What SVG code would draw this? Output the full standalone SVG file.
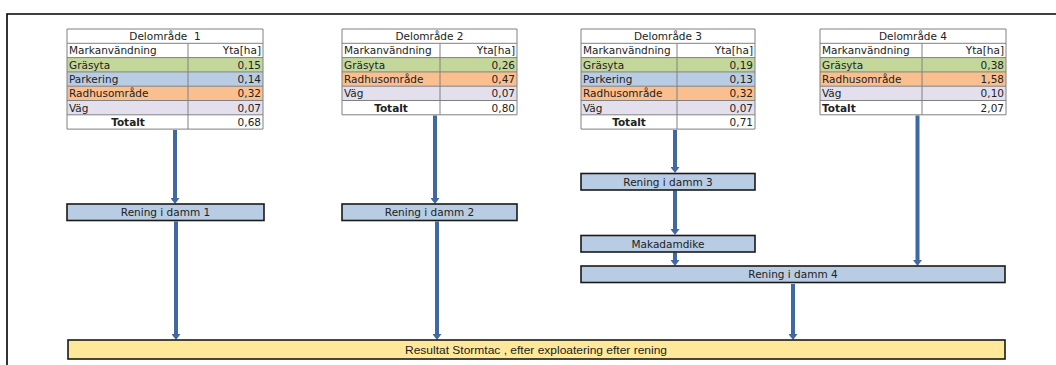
<svg xmlns="http://www.w3.org/2000/svg" width="1056" height="365" viewBox="0 0 1056 365">
<defs>
<style>
.t{font-family:"DejaVu Sans","Liberation Sans",sans-serif;font-size:10.5px;fill:#222}
.b{font-weight:bold}
.e{text-anchor:end}
.m{text-anchor:middle}
.w{fill:#ffffff}
.g{fill:#C4D79B}
.bl{fill:#B8CCE4}
.o{fill:#FABF8F}
.l{fill:#E4DFEC}
.grid{stroke:#808080;stroke-width:1;fill:none}
.box{fill:#B8CCE4;stroke:#1a1a1a;stroke-width:1.6}
.res{fill:#FFE899;stroke:#1a1a1a;stroke-width:1.6}
.rt{font-family:"Liberation Sans Narrow","Liberation Sans",sans-serif;font-size:11px;fill:#222;text-anchor:middle}
.ar{stroke:#4069A3;stroke-width:4;fill:none;marker-end:url(#ah)}
</style>
<marker id="ah" markerUnits="userSpaceOnUse" markerWidth="6" markerHeight="9" viewBox="0 0 6 9" refX="2" refY="4.5" orient="auto">
<path d="M0,0 L6,4.5 L0,9 z" fill="#4069A3"/>
</marker>
</defs>
<rect width="1056" height="365" fill="#ffffff"/>
<path d="M7,365 V14 H1056" fill="none" stroke="#000" stroke-width="1.6"/>

<g id="table1">
<rect x="67" y="29" width="196" height="28.6" class="w"/>
<rect x="67" y="57.6" width="196" height="14.3" class="g"/>
<rect x="67" y="71.9" width="196" height="14.3" class="bl"/>
<rect x="67" y="86.2" width="196" height="14.3" class="o"/>
<rect x="67" y="100.5" width="196" height="14.3" class="l"/>
<rect x="67" y="114.8" width="196" height="14.3" class="w"/>
<path class="grid" d="M67,29H263V129.1H67Z M67,43.3H263 M67,57.6H263 M67,71.9H263 M67,86.2H263 M67,100.5H263 M67,114.8H263 M188,43.3V129.1"/>
<text x="165" y="40" class="t m" xml:space="preserve">Delområde  1</text>
<text x="69" y="54.3" class="t">Markanvändning</text><text x="261" y="54.3" class="t e">Yta[ha]</text>
<text x="69" y="68.6" class="t">Gräsyta</text><text x="261" y="68.6" class="t e">0,15</text>
<text x="69" y="82.9" class="t">Parkering</text><text x="261" y="82.9" class="t e">0,14</text>
<text x="69" y="97.2" class="t">Radhusområde</text><text x="261" y="97.2" class="t e">0,32</text>
<text x="69" y="111.5" class="t">Väg</text><text x="261" y="111.5" class="t e">0,07</text>
<text x="128" y="125.8" class="t b m">Totalt</text><text x="261" y="125.8" class="t e">0,68</text>
</g>

<g id="table2">
<rect x="342" y="29" width="175" height="28.6" class="w"/>
<rect x="342" y="57.6" width="175" height="14.3" class="g"/>
<rect x="342" y="71.9" width="175" height="14.3" class="o"/>
<rect x="342" y="86.2" width="175" height="14.3" class="l"/>
<rect x="342" y="100.5" width="175" height="14.3" class="w"/>
<path class="grid" d="M342,29H517V114.8H342Z M342,43.3H517 M342,57.6H517 M342,71.9H517 M342,86.2H517 M342,100.5H517 M440,43.3V114.8"/>
<text x="429.5" y="40" class="t m">Delområde 2</text>
<text x="344" y="54.3" class="t">Markanvändning</text><text x="515" y="54.3" class="t e">Yta[ha]</text>
<text x="344" y="68.6" class="t">Gräsyta</text><text x="515" y="68.6" class="t e">0,26</text>
<text x="344" y="82.9" class="t">Radhusområde</text><text x="515" y="82.9" class="t e">0,47</text>
<text x="344" y="97.2" class="t">Väg</text><text x="515" y="97.2" class="t e">0,07</text>
<text x="391" y="111.5" class="t b m">Totalt</text><text x="515" y="111.5" class="t e">0,80</text>
</g>

<g id="table3">
<rect x="581" y="29" width="174" height="28.6" class="w"/>
<rect x="581" y="57.6" width="174" height="14.3" class="g"/>
<rect x="581" y="71.9" width="174" height="14.3" class="bl"/>
<rect x="581" y="86.2" width="174" height="14.3" class="o"/>
<rect x="581" y="100.5" width="174" height="14.3" class="l"/>
<rect x="581" y="114.8" width="174" height="14.3" class="w"/>
<path class="grid" d="M581,29H755V129.1H581Z M581,43.3H755 M581,57.6H755 M581,71.9H755 M581,86.2H755 M581,100.5H755 M581,114.8H755 M677,43.3V129.1"/>
<text x="668" y="40" class="t m">Delområde 3</text>
<text x="583" y="54.3" class="t">Markanvändning</text><text x="753" y="54.3" class="t e">Yta[ha]</text>
<text x="583" y="68.6" class="t">Gräsyta</text><text x="753" y="68.6" class="t e">0,19</text>
<text x="583" y="82.9" class="t">Parkering</text><text x="753" y="82.9" class="t e">0,13</text>
<text x="583" y="97.2" class="t">Radhusområde</text><text x="753" y="97.2" class="t e">0,32</text>
<text x="583" y="111.5" class="t">Väg</text><text x="753" y="111.5" class="t e">0,07</text>
<text x="629" y="125.8" class="t b m">Totalt</text><text x="753" y="125.8" class="t e">0,71</text>
</g>

<g id="table4">
<rect x="820" y="29" width="186" height="28.6" class="w"/>
<rect x="820" y="57.6" width="186" height="14.3" class="g"/>
<rect x="820" y="71.9" width="186" height="14.3" class="o"/>
<rect x="820" y="86.2" width="186" height="14.3" class="l"/>
<rect x="820" y="100.5" width="186" height="14.3" class="w"/>
<path class="grid" d="M820,29H1006V114.8H820Z M820,43.3H1006 M820,57.6H1006 M820,71.9H1006 M820,86.2H1006 M820,100.5H1006 M922,43.3V114.8"/>
<text x="913" y="40" class="t m">Delområde 4</text>
<text x="822" y="54.3" class="t">Markanvändning</text><text x="1004" y="54.3" class="t e">Yta[ha]</text>
<text x="822" y="68.6" class="t">Gräsyta</text><text x="1004" y="68.6" class="t e">0,38</text>
<text x="822" y="82.9" class="t">Radhusområde</text><text x="1004" y="82.9" class="t e">1,58</text>
<text x="822" y="97.2" class="t">Väg</text><text x="1004" y="97.2" class="t e">0,10</text>
<text x="822" y="111.5" class="t b">Totalt</text><text x="1004" y="111.5" class="t e">2,07</text>
</g>

<g id="connectors">
<path class="ar" d="M175,130 V200"/>
<path class="ar" d="M435,115.5 V200"/>
<path class="ar" d="M675,130 V169"/>
<path class="ar" d="M675,190.5 V231"/>
<path class="ar" d="M675,252.5 V262"/>
<path class="ar" d="M917.5,115.5 V262"/>
<path class="ar" d="M176,221.5 V336"/>
<path class="ar" d="M437,221.5 V336"/>
<path class="ar" d="M793,284 V336"/>
</g>

<g id="damm1"><rect x="67" y="204" width="197" height="16.5" class="box"/><text x="165.5" y="216.2" class="t m">Rening i damm 1</text></g>
<g id="damm2"><rect x="342" y="204" width="175" height="16.5" class="box"/><text x="429.5" y="216.2" class="t m">Rening i damm 2</text></g>
<g id="damm3"><rect x="581" y="173.5" width="174" height="16.5" class="box"/><text x="668" y="185.7" class="t m">Rening i damm 3</text></g>
<g id="makadamdike"><rect x="581" y="235.5" width="174" height="16.5" class="box"/><text x="668" y="247.7" class="t m">Makadamdike</text></g>
<g id="damm4"><rect x="581" y="266" width="424" height="16.5" class="box"/><text x="793" y="278.2" class="t m">Rening i damm 4</text></g>
<g id="resultat"><rect x="68" y="340" width="937" height="19" class="res"/><text x="536" y="353.5" class="rt" textLength="262" lengthAdjust="spacingAndGlyphs">Resultat Stormtac , efter exploatering efter rening</text></g>
</svg>
